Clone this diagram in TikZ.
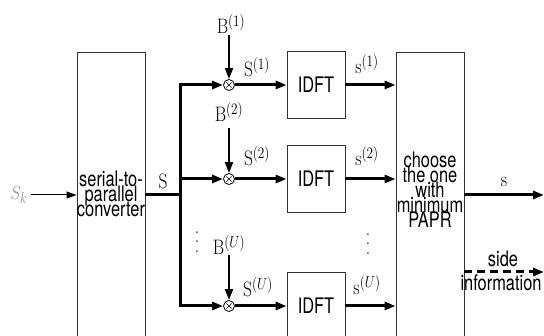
\documentclass[tikz,border=0pt]{standalone}
\usepackage{graphicx}
\usepackage{fontspec}
\newfontfamily\hv{TeX Gyre Heros}
\usetikzlibrary{arrows.meta}
\definecolor{skgray}{gray}{0.55}
\newcommand\mytightls{\lineskiplimit=-30pt\relax\lineskip=0pt\relax}
\newcommand\myvdots{\vbox{\baselineskip=8.5pt\lineskiplimit=-20pt\relax\hbox{.}\hbox{.}\hbox{.}}}
\begin{document}
\begin{tikzpicture}[x=1pt,y=-1pt,
  box/.style={draw=black!80,line width=0.9pt,inner sep=0pt},
  idft/.style={box,minimum width=58pt,minimum height=67pt,font=\hv\fontsize{20}{15}\selectfont},
  bigbox/.style={box,minimum width=68pt,minimum height=308pt},
  thk/.style={line width=3pt},
  tip/.style={-{Triangle[length=11pt,width=8pt]}},
  mth/.style={inner sep=0pt,xscale=0.92,yscale=1.1,font=\fontsize{19}{21}\selectfont},
  sns/.style={inner sep=0pt,xscale=0.82,yscale=1.07,align=center,font=\hv\fontsize{20}{14}\selectfont\mytightls},
  mult/.style={circle,draw,line width=0.8pt,minimum size=11pt,inner sep=0pt}]
\useasboundingbox (0,0) rectangle (544,336);
\clip (0,0) rectangle (544,336);
% big boxes
\node[bigbox] (sp) at (111,206) {};
\node[bigbox] (ch) at (430,206) {};
\node[sns] (spt) at (111,194) {serial-to-\\parallel\\converter};
\node[sns] (cht) at (430,190) {choose\\the one\\with\\minimum\\PAPR};
% IDFT boxes
\node[idft] (i1) at (316,85) {\scalebox{0.82}[1.07]{IDFT}};
\node[idft] (i2) at (316,179) {\scalebox{0.82}[1.07]{IDFT}};
\node[idft] (i3) at (316,306) {\scalebox{0.82}[1.07]{IDFT}};
% multipliers
\foreach \n/\y in {m1/85,m2/179,m3/306}{
  \node[mult] (\n) at (229,\y) {};
  \draw[line width=0.6pt] ([shift={(-2.6pt,-2.6pt)}]\n.center) -- ([shift={(2.6pt,2.6pt)}]\n.center)
        ([shift={(-2.6pt,2.6pt)}]\n.center) -- ([shift={(2.6pt,-2.6pt)}]\n.center);
}
% input
\node[mth,text=skgray] (sk) at (19,195) {$S_k$};
\draw[line width=1pt,-{Triangle[length=10pt,width=7pt]}] ([xshift=3pt]sk.east) -- (sk.east -| sp.west);
% trunk
\coordinate (j) at (180,195);
\coordinate (t1) at (180,85);
\coordinate (t3) at (180,306);
\draw[thk] (sp.east |- j) -- (j);
\draw[thk,tip] (j) -- (t1) -- (m1);
\draw[thk,tip] (j) -- (t3) -- (m3);
\draw[thk,tip] (j |- m2) -- (m2);
\node[mth] (sl) at (163,181) {$\mathrm{S}$};
% B inputs
\coordinate (b1) at (229,35);
\coordinate (b2) at (229,128);
\coordinate (b3) at (229,255);
\draw[line width=2pt,tip] (b1) -- (m1);
\draw[line width=2pt,tip] (b2) -- (m2);
\draw[line width=2pt,tip] (b3) -- (m3);
\node[mth] (B1) at (231,24) {$\mathrm{B}^{(1)}$};
\node[mth] (B2) at (229,112) {$\mathrm{B}^{(2)}$};
\node[mth] (B3) at (229,245) {$\mathrm{B}^{(U)}$};
% to IDFT
\draw[thk,tip] (m1) -- (i1);
\draw[thk,tip] (m2) -- (i2);
\draw[thk,tip] (m3) -- (i3);
\node[mth] (S1) at (257,67) {$\mathrm{S}^{(1)}$};
\node[mth] (S2) at (257,156) {$\mathrm{S}^{(2)}$};
\node[mth] (S3) at (258,287) {$\mathrm{S}^{(U)}$};
% to choose box
\draw[thk,tip] (i1.east) -- (i1.east -| ch.west);
\draw[thk,tip] (i2.east) -- (i2.east -| ch.west);
\draw[thk,tip] (i3.east) -- (i3.east -| ch.west);
\node[mth] (s1) at (367,64) {$\mathrm{s}^{(1)}$};
\node[mth] (s2) at (367,156) {$\mathrm{s}^{(2)}$};
\node[mth] (s3) at (367,285) {$\mathrm{s}^{(U)}$};
% dots
\node[mth] (d1) at (197,242) {\myvdots};
\node[mth] (d2) at (368,244) {\myvdots};
% outputs
\coordinate (o1) at (544,195);
\coordinate (o2) at (544,272);
\draw[thk,tip] (ch.east |- o1) -- (o1);
\draw[thk,tip,dash pattern=on 8pt off 5pt] (ch.east |- o2) -- (o2);
\node[mth] (ol) at (504,182) {$\mathrm{s}$};
\node[sns] (si1) at (503,259) {side};
\node[sns] (si2) at (501,283) {information};
\end{tikzpicture}
\end{document}
